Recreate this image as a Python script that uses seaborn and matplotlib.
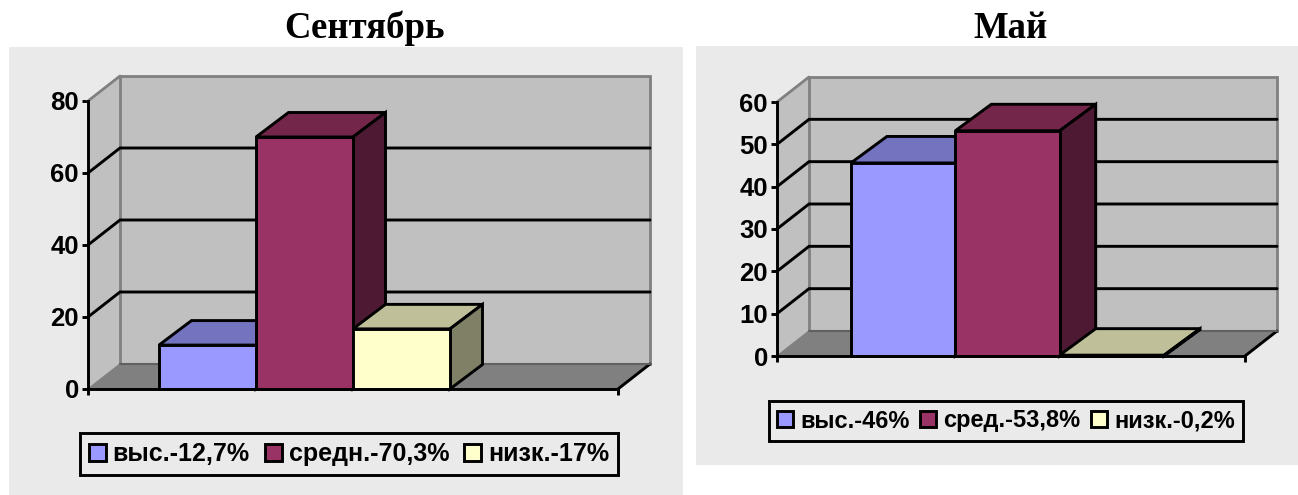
import pandas as pd
import seaborn as sns
import matplotlib.pyplot as plt
from matplotlib.patches import Patch, Polygon, Rectangle

# chart values
sep_title = 'Сентябрь'
sep_cats = ['выс.', 'средн.', 'низк.']
sep_values = [12.2, 70, 16.7]
sep_legend = ['выс.-12,7%', 'средн.-70,3%', 'низк.-17%']
sep_ticks = [0, 20, 40, 60, 80]

may_title = 'Май'
may_cats = ['выс.', 'сред.', 'низк.']
may_values = [45.6, 53.2, 0.2]
may_legend = ['выс.-46%', 'сред.-53,8%', 'низк.-0,2%']
may_ticks = [0, 10, 20, 30, 40, 50, 60]

W, H = 1298, 495
BLACK_LW = 2.1
front = ['#9999ff', '#993366', '#ffffcc']
top = ['#7373bf', '#732649', '#bfbf99']
side = ['#4d4d80', '#4d1933', '#808066']

sns.set_style('white')
plt.rcParams['font.family'] = ['Liberation Sans', 'DejaVu Sans']
plt.rcParams['text.color'] = 'black'
plt.rcParams['ytick.color'] = 'black'
plt.rcParams['xtick.color'] = 'black'

fig = plt.figure(figsize=(W / 100, H / 100), dpi=100)


def fx(px):
    return px / W


def fy(py):
    return 1 - py / H


def panel(title, cats, values, labels, ticks, bg, box, depth, bar_depth, gaps, slots, leg, leg_size, title_x):
    # grey panel behind the chart
    fig.patches.append(Rectangle((fx(bg[0]), fy(bg[3])), (bg[2] - bg[0]) / W, (bg[3] - bg[1]) / H,
                                 transform=fig.transFigure, facecolor='#eaeaea', edgecolor='none',
                                 zorder=-5))
    fig.text(fx(title_x), fy(28), title, family=['Liberation Serif'], weight='bold',
             fontsize=26.5, ha='center', va='center', color='black')

    x0, ytop, x1, ybot = box
    ax = fig.add_axes([fx(x0), fy(ybot), (x1 - x0) / W, (ybot - ytop) / H])
    ax.patch.set_alpha(0)

    df = pd.DataFrame({'cat': cats, 'value': values})
    sns.barplot(data=df, x='cat', y='value', hue='cat', order=cats + [' '] * slots,
                palette=dict(zip(cats, front)), saturation=1, dodge=False, width=1, legend=False,
                edgecolor='black', linewidth=BLACK_LW, ax=ax, zorder=10)

    xmin = -0.5 - gaps[0]
    xmax = len(cats) + slots - 0.5 + gaps[1]
    ymax = ticks[-1]
    ax.set_xlim(xmin, xmax)
    ax.set_ylim(0, ymax)

    # depth of the fake 3d box, in data units
    x_unit = (xmax - xmin) / (x1 - x0)
    y_unit = ymax / (ybot - ytop)
    dx = depth[0] * x_unit
    dy = depth[1] * y_unit
    bdx = bar_depth[0] * x_unit
    bdy = bar_depth[1] * y_unit

    # walls and floor
    ax.add_patch(Polygon([(xmin, 0), (xmin + dx, dy), (xmin + dx, ymax + dy), (xmin, ymax)],
                         facecolor='#c0c0c0', edgecolor='none', clip_on=False, zorder=1))
    ax.add_patch(Rectangle((xmin + dx, dy), xmax - xmin, ymax, facecolor='#c0c0c0',
                           edgecolor='#808080', linewidth=2, clip_on=False, zorder=1))
    ax.add_patch(Polygon([(xmin, 0), (xmin + dx, dy), (xmax + dx, dy), (xmax, 0)],
                         facecolor='#808080', edgecolor='none', clip_on=False, zorder=2))
    ax.plot([xmin, xmin + dx], [ymax, ymax + dy], color='#808080', lw=2, clip_on=False, zorder=3)
    ax.plot([xmin, xmin + dx], [0, dy], color='#808080', lw=1, clip_on=False, zorder=3)
    ax.plot([xmax, xmax + dx], [0, dy], color='black', lw=BLACK_LW, clip_on=False, zorder=3)
    ax.plot([xmin + dx, xmax + dx], [dy, dy], color='#606060', lw=1.5, clip_on=False, zorder=3)

    # gridlines run along the side wall and back wall
    for t in ticks[1:-1]:
        ax.plot([xmin, xmin + dx, xmax + dx], [t, t + dy, t + dy], color='black', lw=BLACK_LW,
                clip_on=False, zorder=3, solid_joinstyle='miter')

    # top and side faces taken from the bars seaborn drew
    bars = sorted([p for p in ax.patches if isinstance(p, Rectangle) and p.get_width() == 1],
                  key=lambda p: p.get_x())
    for i, bar in enumerate(bars):
        left = bar.get_x()
        right = left + bar.get_width()
        h = bar.get_height()
        z = 4 + 2 * i
        ax.add_patch(Polygon([(left, h), (left + bdx, h + bdy), (right + bdx, h + bdy), (right, h)],
                             facecolor=top[i], edgecolor='black', lw=BLACK_LW, clip_on=False, zorder=z))
        ax.add_patch(Polygon([(right, 0), (right + bdx, bdy), (right + bdx, h + bdy), (right, h)],
                             facecolor=side[i], edgecolor='black', lw=BLACK_LW, clip_on=False, zorder=z))
        bar.set_zorder(z + 1)
        bar.set_clip_on(False)

    sns.despine(ax=ax)
    for s in ['left', 'bottom']:
        ax.spines[s].set_linewidth(BLACK_LW)
        ax.spines[s].set_color('black')
        ax.spines[s].set_zorder(20)
    ax.set_xlabel('')
    ax.set_ylabel('')
    ax.set_xticks([xmin, xmax])
    ax.set_xticklabels([])
    ax.set_yticks(ticks)
    ax.set_yticklabels([str(t) for t in ticks], fontsize=18.5, fontweight='bold', color='black')
    ax.tick_params(axis='both', direction='out', length=4.5, width=BLACK_LW, color='black',
                   left=True, bottom=True, pad=2)

    handles = [Patch(facecolor=c, edgecolor='black', linewidth=BLACK_LW) for c in front]
    lg = fig.legend(handles, labels, loc='center', ncol=3, mode='expand',
                    bbox_to_anchor=(fx(leg[0]), fy(leg[1]), (leg[2] - leg[0]) / W, 0),
                    frameon=True, fancybox=False, framealpha=1, facecolor='#eaeaea', edgecolor='black',
                    prop={'family': 'Liberation Sans', 'weight': 'bold', 'size': leg_size},
                    handlelength=0.68, handleheight=0.68, handletextpad=0.28, columnspacing=0.4,
                    borderpad=0.35, borderaxespad=0)
    lg.get_frame().set_linewidth(BLACK_LW)
    for text in lg.get_texts():
        text.set_color('black')


panel(sep_title, sep_cats, sep_values, sep_legend, sep_ticks,
      bg=(9, 47, 683, 495), box=(88, 101, 618, 389), depth=(32, 25), bar_depth=(32.5, 24.5),
      gaps=(71 / 97, 71 / 97), slots=1, leg=(80, 454, 618), leg_size=18, title_x=365)
panel(may_title, may_cats, may_values, may_legend, may_ticks,
      bg=(696, 46, 1298, 465), box=(777, 102, 1245, 356), depth=(32, 25), bar_depth=(36, 26.5),
      gaps=(74 / 104.5, 81 / 104.5), slots=0, leg=(769, 421, 1243), leg_size=17, title_x=1010)

fig.savefig('out.png', dpi=100)
